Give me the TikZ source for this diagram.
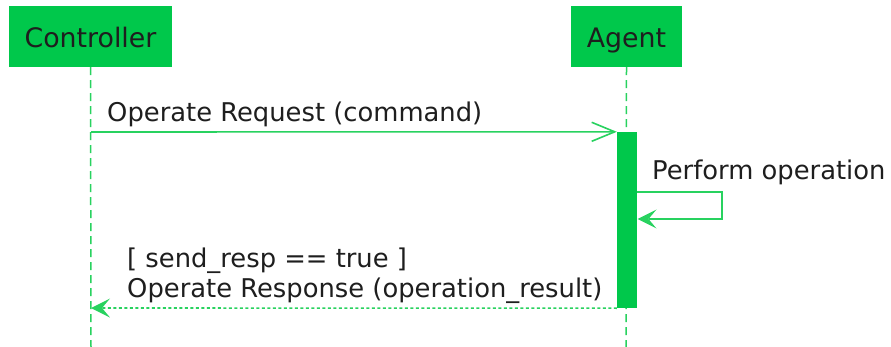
\documentclass[tikz,border=0pt]{standalone}
\usepackage{fontspec}
\setmainfont{DejaVu Sans}
\usetikzlibrary{arrows.meta}
\definecolor{boxgreen}{RGB}{0,200,75}
\definecolor{linegreen}{RGB}{40,210,95}
\definecolor{txt}{RGB}{30,30,30}
\tikzset{
  participant/.style={fill=boxgreen, draw=none, minimum height=61pt, inner sep=0pt,
    text height=28pt, text depth=5pt,
    text=txt, font=\fontsize{26.8}{31}\selectfont},
  lifeline/.style={draw=linegreen, line width=1.5pt, dash pattern=on 8pt off 5pt},
  actbar/.style={fill=boxgreen, draw=none, minimum width=20pt, minimum height=176pt, inner sep=0pt},
  msg/.style={draw=linegreen, line width=1.6pt},
  reply/.style={msg, dash pattern=on 3pt off 2.5pt},
  openhead/.style={-{Straight Barb[length=23pt,width=19pt,line width=1.6pt]}},
  solidhead/.style={-{Stealth[length=19pt,width=19pt,inset=8pt,line width=0pt]}},
  label/.style={anchor=base west, inner sep=0pt, text=txt, font=\fontsize{25.8}{30}\selectfont}
}
\begin{document}
\begin{tikzpicture}[x=1pt,y=-1pt]
  \useasboundingbox (0,0) rectangle (891,347);
  \fill[white] (0,0) rectangle (891,347);

  % participants
  \node[participant, minimum width=163pt] (ctrl) at (90.5,36.5) {Controller};
  \node[participant, minimum width=111pt] (agent) at (626.5,36.5) {Agent};

  % lifelines
  \coordinate (ctrlend) at (91,347);
  \coordinate (agentend) at (626,347);
  \draw[lifeline] (ctrl.south) -- (ctrlend);
  \draw[lifeline] (agent.south) -- (agentend);

  % activation of the agent
  \node[actbar] (act) at (627,220) {};

  % request
  \coordinate (reqstart) at (91,132);
  \draw[msg, openhead] (reqstart) -- (act.north west);
  \node[label] (reqlbl) at (107,122) {Operate Request (command)};

  % self call
  \coordinate (selfa) at (637,192);
  \coordinate (selfb) at (722,192);
  \coordinate (selfc) at (722,219);
  \coordinate (selfd) at (637.5,219);
  \draw[msg, solidhead] (selfa) -- (selfb) -- (selfc) -- (selfd);
  \node[label] (selflbl) at (652,180) {Perform operation};

  % response
  \coordinate (respend) at (91,308);
  \draw[reply, solidhead] (act.south west) -- (respend);
  \node[label] (guard) at (127,268) {[ send\_resp == true ]};
  \node[label] (resplbl) at (127,298) {Operate Response (operation\_result)};
\end{tikzpicture}
\end{document}
